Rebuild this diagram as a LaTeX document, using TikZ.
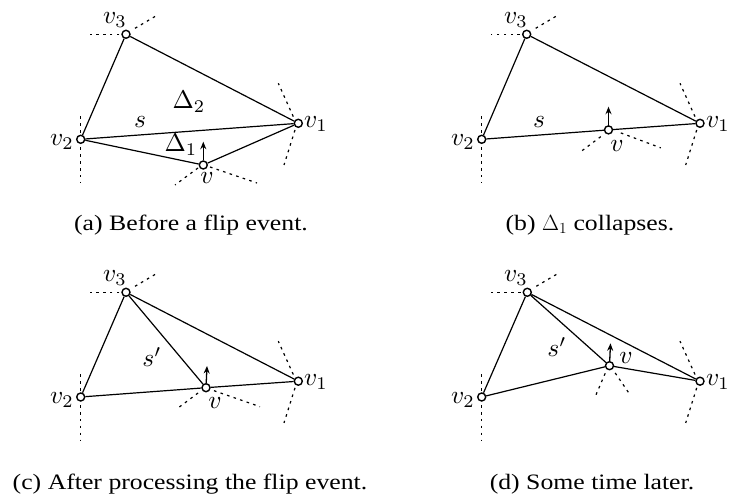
\RequirePackage{fix-cm}
\documentclass[tikz,border=0pt]{standalone}
\usepackage[no-math]{fontspec}
\usepackage{graphicx}
\setmainfont{Liberation Serif}
\newfontfamily\capfont[FakeStretch=1.17]{Liberation Serif}
\usetikzlibrary{arrows.meta}
\newcommand\lbl[1]{\scalebox{2.55}{$#1$}}
\newcommand\outerstubs[3]{%
  \draw[faint] ([shift={(-6.7,0)}]#1.center) -- ([shift={(-36,0)}]#1.center);
  \draw[faint] ([shift={(9,-6)}]#1.center) -- ([shift={(31,-19)}]#1.center);
  \draw[faint] ([shift={(0,-6.5)}]#2.center) -- ([shift={(0,-24)}]#2.center);
  \draw[faint] ([shift={(0,8)}]#2.center) -- ([shift={(0,44)}]#2.center);
  \draw[faint] ([shift={(-5,-6.7)}]#3.center) -- ([shift={(-20,-40)}]#3.center);
  \draw[faint] ([shift={(-3.3,6.7)}]#3.center) -- ([shift={(-14.3,41.7)}]#3.center);
}
\begin{document}
\begin{tikzpicture}[x=1pt,y=-1pt,
  vtx/.style={circle,draw,fill=white,line width=1.4pt,inner sep=0pt,minimum size=8pt},
  edge/.style={line width=1.2pt},
  faint/.style={line width=1.2pt,dash pattern=on 2.6pt off 4.3pt},
  mv/.style={-{Stealth[length=7.5pt,width=6pt]},line width=1.3pt},
  lab/.style={inner sep=0pt,font=\normalsize},
  captext/.style={anchor=base,inner sep=0pt,font=\capfont\fontsize{22}{26}\selectfont}]
\useasboundingbox (0,0) rectangle (734,497);

% ---------- panel (a)
\node[vtx] (v3a) at (126,34.3) {};
\node[vtx] (v2a) at (80.7,139.3) {};
\node[vtx] (v1a) at (298.3,123.3) {};
\node[vtx] (va) at (203.3,165) {};
\coordinate (ta) at (203.3,141.7);
\outerstubs{v3a}{v2a}{v1a}
\draw[faint] ([shift={(-5.3,3)}]va.center) -- ([shift={(-28.3,20)}]va.center);
\draw[faint] ([shift={(6.7,2)}]va.center) -- ([shift={(53.7,18)}]va.center);
\draw[edge] (v3a) -- (v2a);
\draw[edge] (v3a) -- (v1a);
\draw[edge] (v2a) -- (v1a);
\draw[edge] (v2a) -- (va);
\draw[edge] (va) -- (v1a);
\draw[mv] (va) -- (ta);
\node[lab] (l3a) at (115,20) {\lbl{v_3}};
\node[lab] (l2a) at (62,142) {\lbl{v_2}};
\node[lab] (l1a) at (316,124) {\lbl{v_1}};
\node[lab] (lva) at (207,178) {\lbl{v}};
\node[lab] (lsa) at (140,122) {\lbl{s}};
\node[lab] (d2a) at (189,102) {\lbl{\Delta_2}};
\node[lab] (d1a) at (181,145) {\lbl{\Delta_1}};
\node[captext] (ca) at (191,230.5) {(a) Before a flip event.};

% ---------- panel (b)
\node[vtx] (v3b) at (526.7,34.3) {};
\node[vtx] (v2b) at (481.7,139.3) {};
\node[vtx] (v1b) at (700,123.3) {};
\node[vtx] (vb) at (608.5,129.9) {};
\coordinate (tb) at (608.5,106.7);
\outerstubs{v3b}{v2b}{v1b}
\draw[faint] ([shift={(-7.7,6.7)}]vb.center) -- ([shift={(-27.7,21.7)}]vb.center);
\draw[faint] ([shift={(12.3,3)}]vb.center) -- ([shift={(52.3,18)}]vb.center);
\draw[edge] (v3b) -- (v2b);
\draw[edge] (v3b) -- (v1b);
\draw[edge] (v2b) -- (vb);
\draw[edge] (vb) -- (v1b);
\draw[mv] (vb) -- (tb);
\node[lab] (l3b) at (516,20) {\lbl{v_3}};
\node[lab] (l2b) at (463,142) {\lbl{v_2}};
\node[lab] (l1b) at (718,124) {\lbl{v_1}};
\node[lab] (lvb) at (617,146) {\lbl{v}};
\node[lab] (lsb) at (539,122) {\lbl{s}};
\node[captext] (cb) at (590,230.5) {(b) $\Delta_1$ collapses.};

% ---------- panel (c)
\node[vtx] (v3c) at (126,292.3) {};
\node[vtx] (v2c) at (80.7,397) {};
\node[vtx] (v1c) at (298.3,381.2) {};
\node[vtx] (vc) at (206,387.7) {};
\coordinate (tc) at (207,366);
\outerstubs{v3c}{v2c}{v1c}
\draw[faint] ([shift={(-8,5.3)}]vc.center) -- ([shift={(-28,20.3)}]vc.center);
\draw[faint] ([shift={(8,3)}]vc.center) -- ([shift={(54,19)}]vc.center);
\draw[edge] (v3c) -- (v2c);
\draw[edge] (v3c) -- (v1c);
\draw[edge] (v2c) -- (vc);
\draw[edge] (vc) -- (v1c);
\draw[edge] (v3c) -- (vc);
\draw[mv] (vc) -- (tc);
\node[lab] (l3c) at (115,278) {\lbl{v_3}};
\node[lab] (l2c) at (62,400) {\lbl{v_2}};
\node[lab] (l1c) at (316,382) {\lbl{v_1}};
\node[lab] (lvc) at (215,403) {\lbl{v}};
\node[lab] (lsc) at (152,357) {\lbl{s'}};
\node[captext] (cc) at (190,489) {(c) After processing the flip event.};

% ---------- panel (d)
\node[vtx] (v3d) at (527.3,292.3) {};
\node[vtx] (v2d) at (481.7,397) {};
\node[vtx] (v1d) at (700,381.2) {};
\node[vtx] (vd) at (609.5,365.7) {};
\coordinate (td) at (610.5,343.3);
\outerstubs{v3d}{v2d}{v1d}
\draw[faint] ([shift={(-4.3,7.6)}]vd.center) -- ([shift={(-14.3,31)}]vd.center);
\draw[faint] ([shift={(5.7,7.3)}]vd.center) -- ([shift={(20.7,29.3)}]vd.center);
\draw[edge] (v3d) -- (v2d);
\draw[edge] (v3d) -- (v1d);
\draw[edge] (v2d) -- (vd);
\draw[edge] (vd) -- (v1d);
\draw[edge] (v3d) -- (vd);
\draw[mv] (vd) -- (td);
\node[lab] (l3d) at (516,278) {\lbl{v_3}};
\node[lab] (l2d) at (463,400) {\lbl{v_2}};
\node[lab] (l1d) at (718,382) {\lbl{v_1}};
\node[lab] (lvd) at (626,358) {\lbl{v}};
\node[lab] (lsd) at (557,347) {\lbl{s'}};
\node[captext] (cd) at (592,489) {(d) Some time later.};
\end{tikzpicture}
\end{document}
